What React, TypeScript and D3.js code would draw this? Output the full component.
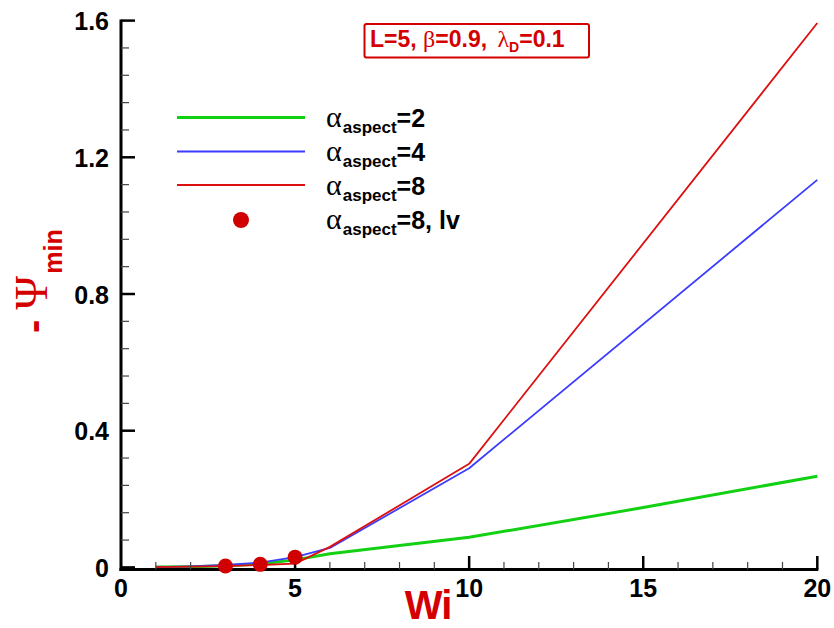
import React from "react";
import * as d3 from "d3";

const WI_A2 = [1, 2, 3, 4, 5, 6, 10, 15, 20];
const PSI_A2 = [0.001, 0.002, 0.005, 0.01, 0.022, 0.04, 0.088, 0.175, 0.267];
const WI_A4 = [1, 2, 3, 4, 5, 6, 10, 20];
const PSI_A4 = [0.001, 0.003, 0.007, 0.014, 0.03, 0.057, 0.29, 1.134];
const WI_A8 = [1, 2, 3, 4, 5, 6, 10, 20];
const PSI_A8 = [0.001, 0.002, 0.004, 0.007, 0.011, 0.06, 0.303, 1.593];
const WI_LV = [3, 4, 5];
const PSI_LV = [0.004, 0.009, 0.03];

const X_TICKS = [0, 5, 10, 15, 20];
const Y_TICKS = [0, 0.4, 0.8, 1.2, 1.6];
const Y_TICK_LABELS = ["0", "0.4", "0.8", "1.2", "1.6"];

const SANS = "'Liberation Sans', Arial, sans-serif";
const SERIF = "'Liberation Serif', 'Times New Roman', serif";
const RED = "#d40000";
const GREEN = "#12d012";
const BLUE = "#3c3cff";
const LRED = "#dd1010";

export default function App() {
  const x = d3.scaleLinear().domain([0, 20]).range([121, 817.3]);
  const y = d3.scaleLinear().domain([0, 1.6]).range([567.4, 20.6]);
  const line = d3
    .line<[number, number]>()
    .x((d) => x(d[0]))
    .y((d) => y(d[1]));
  const zip = (a: number[], b: number[]) => a.map((v, i) => [v, b[i]] as [number, number]);

  const xMinor = d3.range(1, 20).filter((v) => v % 5 !== 0);
  const yMinor = d3.range(0, 1.6 + 1e-9, 0.08).filter((v) => Math.abs(v / 0.4 - Math.round(v / 0.4)) > 1e-6);

  const legendRows = [
    { label: "=2", color: GREEN, width: 3, y: 117.5 },
    { label: "=4", color: BLUE, width: 1.8, y: 151.5 },
    { label: "=8", color: LRED, width: 1.8, y: 185 },
  ];

  return (
    <svg
      width={834}
      height={628}
      style={{ position: "absolute", left: 0, top: 0, background: "#fff" }}
    >
      {/* series */}
      <path d={line(zip(WI_A2, PSI_A2)) || ""} fill="none" stroke={GREEN} strokeWidth={3} strokeLinejoin="round" />
      <path d={line(zip(WI_A4, PSI_A4)) || ""} fill="none" stroke={BLUE} strokeWidth={1.8} strokeLinejoin="round" />
      <path d={line(zip(WI_A8, PSI_A8)) || ""} fill="none" stroke={LRED} strokeWidth={1.8} strokeLinejoin="round" />

      {/* axes */}
      <line x1={121} x2={121} y1={19.5} y2={571} stroke="#000" strokeWidth={3} />
      <line x1={119.5} x2={x(20) + 1} y1={569.5} y2={569.5} stroke="#000" strokeWidth={3} />
      {Y_TICKS.map((v) => (
        <line key={"ym" + v} x1={121} x2={135} y1={y(v)} y2={y(v)} stroke="#000" strokeWidth={2.5} />
      ))}
      {yMinor.map((v) => (
        <line key={"yn" + v} x1={121} x2={129} y1={y(v)} y2={y(v)} stroke="#444" strokeWidth={1.2} />
      ))}
      {X_TICKS.filter((v) => v > 0).map((v) => (
        <line key={"xm" + v} x1={x(v)} x2={x(v)} y1={569.5} y2={556} stroke="#000" strokeWidth={2.5} />
      ))}
      {xMinor.map((v) => (
        <line key={"xn" + v} x1={x(v)} x2={x(v)} y1={569.5} y2={562} stroke="#444" strokeWidth={1.2} />
      ))}

      {/* dots */}
      {WI_LV.map((w, i) => (
        <circle key={"lv" + i} cx={x(w)} cy={y(PSI_LV[i])} r={7.5} fill="#d00000" />
      ))}

      {/* tick labels */}
      {Y_TICKS.map((v, i) => (
        <text
          key={"yl" + v}
          x={109}
          y={y(v) + 9.5}
          textAnchor="end"
          fontFamily={SANS}
          fontWeight="bold"
          fontSize={25}
          fill="#000"
        >
          {Y_TICK_LABELS[i]}
        </text>
      ))}
      {X_TICKS.map((v) => (
        <text
          key={"xl" + v}
          x={x(v)}
          y={597}
          textAnchor="middle"
          fontFamily={SANS}
          fontWeight="bold"
          fontSize={25}
          fill="#000"
        >
          {v}
        </text>
      ))}

      {/* axis titles */}
      <text x={428} y={619} textAnchor="middle" fontFamily={SANS} fontWeight="bold" fontSize={40} letterSpacing={-1} fill={RED}>
        Wi
      </text>
      <text transform="translate(47,333) rotate(-90)" fill={RED}>
        <tspan fontFamily={SANS} fontWeight="bold" fontSize={40}>-</tspan>
        <tspan fontFamily={SERIF} fontSize={46} dx={10}>Ψ</tspan>
        <tspan fontFamily={SANS} fontWeight="bold" fontSize={25} dy={15} dx={2}>min</tspan>
      </text>

      {/* parameter box */}
      <rect x={364.5} y={24} width={224.5} height={33.5} rx={2} fill="none" stroke={RED} strokeWidth={2} />
      <text x={370} y={47} fill={RED} fontFamily={SANS} fontWeight="bold" fontSize={23}>
        <tspan>L=5, </tspan>
        <tspan fontFamily={SERIF} fontWeight="normal" fontSize={24}>β</tspan>
        <tspan>=0.9,  </tspan>
        <tspan fontFamily={SERIF} fontWeight="normal" fontSize={24} dx={4}>λ</tspan>
        <tspan fontSize={14} dy={5}>D</tspan>
        <tspan dy={-5}>=0.1</tspan>
      </text>

      {/* legend */}
      {legendRows.map((r) => (
        <g key={r.label}>
          <line x1={177} x2={305} y1={r.y} y2={r.y} stroke={r.color} strokeWidth={r.width} />
          <text x={326} y={r.y + 9.5} fill="#000" fontFamily={SANS} fontWeight="bold" fontSize={25}>
            <tspan fontFamily={SERIF} fontWeight="normal" fontSize={30}>α</tspan>
            <tspan fontSize={17} dy={6} dx={1}>aspect</tspan>
            <tspan dy={-6}>{r.label}</tspan>
          </text>
        </g>
      ))}
      <circle cx={241} cy={220} r={8} fill="#d00000" />
      <text x={326} y={229} fill="#000" fontFamily={SANS} fontWeight="bold" fontSize={25}>
        <tspan fontFamily={SERIF} fontWeight="normal" fontSize={30}>α</tspan>
        <tspan fontSize={17} dy={6} dx={1}>aspect</tspan>
        <tspan dy={-6}>=8, lv</tspan>
      </text>
    </svg>
  );
}
